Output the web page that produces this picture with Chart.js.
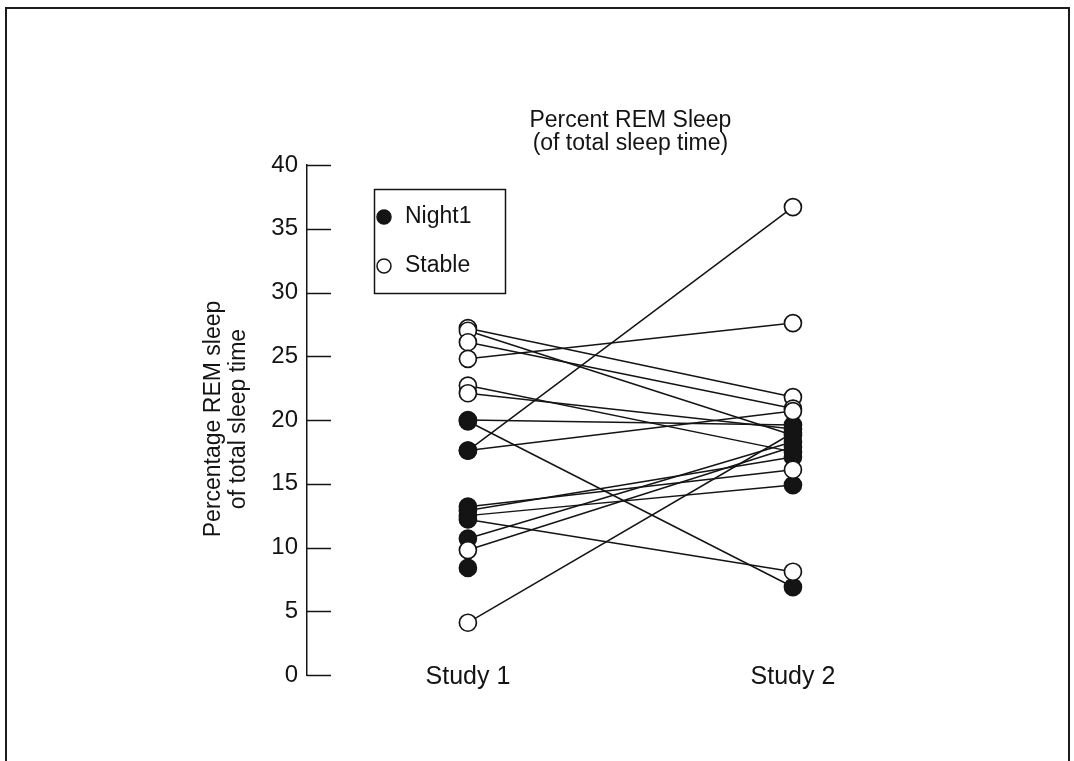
<!DOCTYPE html>
<html>
<head>
<meta charset="utf-8">
<title>Percent REM Sleep</title>
<script src="https://cdn.jsdelivr.net/npm/chart.js@4.4.0/dist/chart.umd.min.js"></script>
<style>
  html, body { margin: 0; padding: 0; background: #fff; }
  #wrap { position: relative; width: 1074px; height: 761px; }
  #frame {
    position: absolute; left: 5px; top: 7px; width: 1065px; height: 760px;
    border: 2px solid #1c1c1c; border-bottom: none; box-sizing: border-box;
    pointer-events: none;
  }
  canvas { position: absolute; left: 0; top: 0; }
</style>
</head>
<body>
<div id="wrap">
  <canvas id="remChart" width="1074" height="761"></canvas>
  <div id="frame"></div>
</div>
<script>
// Percent REM sleep per subject, first and second study (null = no second value)
const studies = ['Study 1', 'Study 2'];
const study1Pct = [27.2, 27.0, 26.1, 24.8, 22.7, 22.1, 20.0, 19.9, 17.6, 17.6, 13.2, 12.9, 12.5, 12.2, 10.7, 9.8, 4.1, 8.4];
const study2Pct = [21.8, 18.8, 20.9, 27.6, 17.5, 19.3, 19.6, 6.9, 36.7, 20.7, 16.1, 17.1, 14.9, 8.1, 18.3, 17.9, 19.0, null];
// 1 = Night1 (filled), 0 = Stable (open)
const study1Night1 = [0, 0, 0, 0, 0, 0, 1, 1, 1, 1, 1, 1, 1, 1, 1, 0, 0, 1];
const study2Night1 = [0, 1, 0, 0, 1, 1, 1, 1, 0, 0, 0, 1, 1, 0, 1, 1, 1, null];
const yTickValues = [0, 5, 10, 15, 20, 25, 30, 35, 40];
const titleLines = ['Percent REM Sleep', '(of total sleep time)'];
const yTitleLines = ['Percentage REM sleep', 'of total sleep time'];
const legendItems = [['Night1', true], ['Stable', false]];

const INK = '#141414';
const FONT = '"Liberation Sans", Arial, sans-serif';

// one connecting line per subject
const lineSets = study1Pct
  .map((v, i) => study2Pct[i] == null ? null : {
    data: [{ x: 1, y: v }, { x: 2, y: study2Pct[i] }],
    showLine: true,
    borderColor: INK,
    borderWidth: 1.5,
    pointRadius: 0,
    order: 2
  })
  .filter(Boolean);

// markers, split by group
function points(flag) {
  const out = [];
  study1Pct.forEach((v, i) => { if (study1Night1[i] === flag) out.push({ x: 1, y: v }); });
  study2Pct.forEach((v, i) => { if (v != null && study2Night1[i] === flag) out.push({ x: 2, y: v }); });
  return out;
}
const markerSets = [
  { data: points(0), pointRadius: 8.5, pointBorderWidth: 1.7, pointBorderColor: INK, pointBackgroundColor: '#fff', showLine: false, order: 0 },
  { data: points(1), pointRadius: 8.5, pointBorderWidth: 1.7, pointBorderColor: INK, pointBackgroundColor: INK, showLine: false, order: 1 }
];

// inward y ticks, titles, category labels and legend box
const decorations = {
  id: 'decorations',
  beforeDatasetsDraw(chart) {
    const { ctx, chartArea } = chart;
    const y = chart.scales.y;
    ctx.save();
    ctx.strokeStyle = INK;
    ctx.lineWidth = 1.5;
    yTickValues.forEach(v => {
      const py = Math.round(y.getPixelForValue(v)) + 0.5;
      ctx.beginPath();
      ctx.moveTo(chartArea.left, py);
      ctx.lineTo(chartArea.left + 24, py);
      ctx.stroke();
    });
    ctx.restore();
  },
  afterDraw(chart) {
    const { ctx } = chart;
    const x = chart.scales.x, y = chart.scales.y;
    ctx.save();
    ctx.fillStyle = INK;
    ctx.textAlign = 'center';
    ctx.textBaseline = 'middle';

    // title, centred between the two studies
    ctx.font = '23px ' + FONT;
    const tx = x.getPixelForValue(1.5);
    titleLines.forEach((t, i) => ctx.fillText(t, tx, 121 + i * 23));

    // category labels on the zero line
    ctx.font = '25px ' + FONT;
    studies.forEach((s, i) => ctx.fillText(s, x.getPixelForValue(i + 1), y.getPixelForValue(0) + 2));

    // rotated y-axis title
    ctx.save();
    ctx.translate(226, 419);
    ctx.rotate(-Math.PI / 2);
    ctx.font = '23px ' + FONT;
    yTitleLines.forEach((t, i) => ctx.fillText(t, 0, -12 + i * 25));
    ctx.restore();

    // legend
    ctx.lineWidth = 1.5;
    ctx.strokeStyle = INK;
    ctx.strokeRect(374.5, 189.5, 131, 104);
    ctx.textAlign = 'left';
    ctx.font = '23px ' + FONT;
    legendItems.forEach(([label, filled], i) => {
      const cy = 217 + i * 49;
      ctx.beginPath();
      ctx.arc(384, cy, 7, 0, Math.PI * 2);
      ctx.fillStyle = filled ? INK : '#fff';
      ctx.fill();
      ctx.stroke();
      ctx.fillStyle = INK;
      ctx.fillText(label, 405, cy);
    });
    ctx.restore();
  }
};

new Chart(document.getElementById('remChart'), {
  type: 'scatter',
  data: { datasets: [...markerSets, ...lineSets] },
  options: {
    responsive: false,
    animation: false,
    devicePixelRatio: 1,
    layout: { padding: { left: 0, top: 165, right: 74, bottom: 86 } },
    plugins: { legend: { display: false }, tooltip: { enabled: false }, title: { display: false } },
    scales: {
      x: { type: 'linear', display: false, min: 0.505, max: 2.637 },
      y: {
        min: 0, max: 40,
        afterFit(scale) { scale.width = 307; },
        grid: { display: false, drawTicks: false },
        border: { display: true, color: INK, width: 1.5 },
        ticks: { stepSize: 5, padding: 9, color: INK, font: { family: FONT, size: 24 } }
      }
    }
  },
  plugins: [decorations]
});
</script>
</body>
</html>
